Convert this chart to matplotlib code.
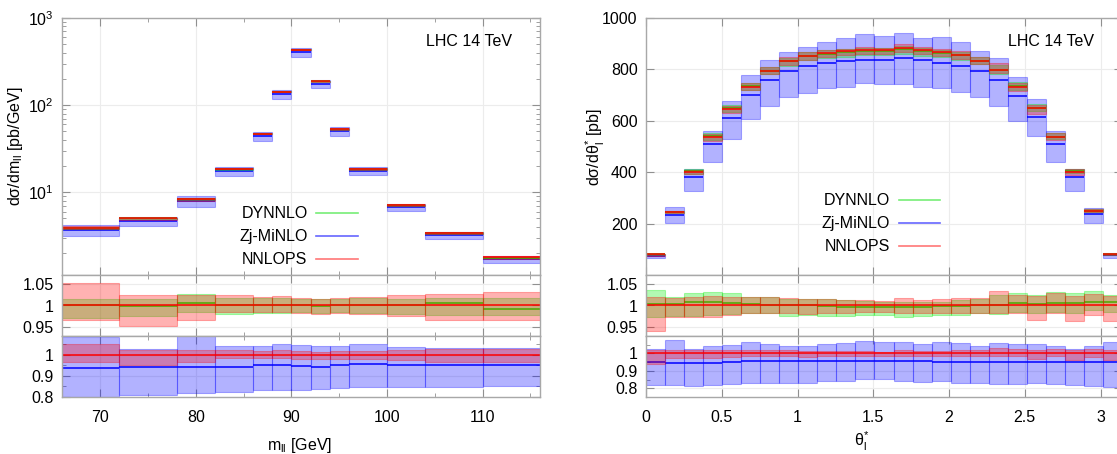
import numpy as np
import matplotlib.pyplot as plt
from matplotlib.lines import Line2D
from matplotlib.ticker import MultipleLocator, LogLocator, NullFormatter, FixedLocator

plt.rcParams['font.family'] = ['Liberation Sans', 'DejaVu Sans']
plt.rcParams['mathtext.fontset'] = 'custom'
plt.rcParams['mathtext.rm'] = 'Liberation Sans'
plt.rcParams['mathtext.it'] = 'Liberation Sans:italic'
plt.rcParams['font.size'] = 11.5

# ---- m_ll distribution (left) ----
m_edges = [66, 72, 78, 82, 86, 88, 90, 92, 94, 96, 100, 104, 110, 116]
m_nnlops = [3.9, 5.0, 8.3, 18.5, 47, 142, 432, 187, 53, 18.4, 7.1, 3.4, 1.79]
# NNLOPS band relative to its central value
m_nnlops_hi = [1.052, 1.023, 1.024, 1.023, 1.020, 1.022, 1.017, 1.015, 1.017, 1.020, 1.023, 1.026, 1.030]
m_nnlops_lo = [0.967, 0.952, 0.966, 0.986, 0.986, 0.985, 0.983, 0.981, 0.983, 0.980, 0.975, 0.967, 0.966]
# DYNNLO / NNLOPS
m_dy_mid = [1.000, 0.998, 1.005, 1.000, 1.000, 1.000, 1.000, 0.999, 1.000, 1.000, 1.000, 1.005, 0.993]
m_dy_hi = [1.014, 1.014, 1.027, 1.018, 1.018, 1.018, 1.015, 1.014, 1.015, 1.018, 1.015, 1.018, 1.018]
m_dy_lo = [0.971, 0.977, 0.986, 0.981, 0.983, 0.983, 0.984, 0.983, 0.984, 0.983, 0.980, 0.979, 0.979]
# Zj-MiNLO / NNLOPS
m_zj_mid = [0.937, 0.944, 0.944, 0.944, 0.951, 0.951, 0.948, 0.944, 0.951, 0.956, 0.951, 0.951, 0.951]
m_zj_hi = [1.084, 1.029, 1.090, 1.041, 1.043, 1.052, 1.048, 1.044, 1.044, 1.052, 1.037, 1.032, 1.032]
m_zj_lo = [0.800, 0.810, 0.821, 0.822, 0.833, 0.833, 0.833, 0.837, 0.841, 0.849, 0.849, 0.849, 0.852]

# ---- theta*_l distribution (right) ----
t_edges = np.linspace(0, np.pi, 26)
t_nnlops = [80, 246, 402, 537, 645, 733, 794, 833, 853, 863, 870, 875, 874, 882, 874,
            866, 856, 834, 798, 730, 648, 536, 402, 249, 80]
t_nnlops_hi = [1.019, 1.017, 1.019, 1.022, 1.020, 1.020, 1.020, 1.017, 1.015, 1.014, 1.013, 1.013, 1.011,
               1.018, 1.013, 1.014, 1.017, 1.018, 1.033, 1.024, 1.022, 1.028, 1.022, 1.026, 1.022]
t_nnlops_lo = [0.941, 0.973, 0.973, 0.973, 0.979, 0.983, 0.983, 0.983, 0.981, 0.983, 0.983, 0.984, 0.986,
               0.983, 0.983, 0.983, 0.983, 0.983, 0.983, 0.983, 0.967, 0.983, 0.965, 0.979, 0.964]
t_dy_mid = [1.003, 1.004, 1.008, 1.009, 1.005, 1.003, 1.002, 1.000, 1.000, 0.998, 0.996, 0.996, 0.996,
            0.996, 0.997, 0.998, 0.998, 1.000, 1.002, 1.005, 1.004, 1.005, 1.005, 1.007, 1.007]
t_dy_hi = [1.036, 1.019, 1.028, 1.030, 1.028, 1.020, 1.020, 1.015, 1.015, 1.015, 1.013, 1.011, 1.009,
           1.009, 1.009, 1.009, 1.013, 1.015, 1.024, 1.028, 1.024, 1.030, 1.028, 1.033, 1.024]
t_dy_lo = [0.973, 0.975, 0.975, 0.979, 0.981, 0.983, 0.983, 0.975, 0.979, 0.977, 0.975, 0.979, 0.979,
           0.973, 0.975, 0.979, 0.979, 0.983, 0.980, 0.984, 0.983, 0.986, 0.983, 0.990, 0.986]
t_zj_mid = [0.948, 0.944, 0.944, 0.946, 0.950, 0.955, 0.955, 0.955, 0.955, 0.957, 0.955, 0.957, 0.958,
            0.957, 0.955, 0.953, 0.952, 0.950, 0.950, 0.952, 0.950, 0.948, 0.948, 0.950, 0.950]
t_zj_hi = [1.025, 1.079, 1.025, 1.040, 1.050, 1.064, 1.052, 1.042, 1.042, 1.052, 1.058, 1.073, 1.064,
           1.068, 1.054, 1.068, 1.058, 1.044, 1.058, 1.054, 1.054, 1.044, 1.025, 1.044, 1.068]
t_zj_lo = [0.819, 0.819, 0.813, 0.819, 0.823, 0.829, 0.829, 0.832, 0.832, 0.842, 0.842, 0.852, 0.852,
           0.842, 0.836, 0.842, 0.832, 0.832, 0.823, 0.823, 0.832, 0.823, 0.817, 0.813, 0.807]

GREEN, BLUE, RED = '#00ee00', '#0000ff', '#ff0000'
W, H = 1117, 454


def px_rect(x0, x1, y0, y1):
    return [x0 / W, 1 - y1 / H, (x1 - x0) / W, (y1 - y0) / H]


def band(ax, edges, lo, hi, mid, color, z):
    edges = np.asarray(edges, dtype=float)
    lo, hi = np.asarray(lo), np.asarray(hi)
    ax.bar(edges[:-1], hi - lo, width=np.diff(edges), bottom=lo, align='edge',
           color=color, alpha=0.3, edgecolor=color, linewidth=0.8, zorder=z)
    ax.hlines(mid, edges[:-1], edges[1:], colors=color, lw=1.1, zorder=z + 0.1)


def style(ax, bottom_labels=False):
    for s in ax.spines.values():
        s.set_color('#a8a8a8')
        s.set_linewidth(1.0)
        s.set_zorder(10)
    ax.tick_params(which='both', direction='in', top=True, right=True, color='#909090',
                   labelbottom=bottom_labels, labelsize=11.5)
    ax.tick_params(which='major', length=6)
    ax.tick_params(which='minor', length=3)
    ax.tick_params(axis='x', pad=9)
    ax.tick_params(axis='y', pad=6)
    ax.grid(True, which='major', color='#ececec', lw=0.8)
    ax.set_axisbelow(True)


fig = plt.figure(figsize=(W / 100, H / 100), dpi=100)

legend_handles = [Line2D([], [], color='#77ee77', lw=1.2),
                  Line2D([], [], color='#6666ff', lw=1.2),
                  Line2D([], [], color='#ff7777', lw=1.2)]
legend_labels = ['DYNNLO', 'Zj-MiNLO', 'NNLOPS']

panels = [
    dict(x0=62, x1=540, edges=m_edges, c=m_nnlops, chi=m_nnlops_hi, clo=m_nnlops_lo,
         dmid=m_dy_mid, dhi=m_dy_hi, dlo=m_dy_lo, zmid=m_zj_mid, zhi=m_zj_hi, zlo=m_zj_lo),
    dict(x0=646, x1=1122, edges=t_edges, c=t_nnlops, chi=t_nnlops_hi, clo=t_nnlops_lo,
         dmid=t_dy_mid, dhi=t_dy_hi, dlo=t_dy_lo, zmid=t_zj_mid, zhi=t_zj_hi, zlo=t_zj_lo),
]

for i, p in enumerate(panels):
    ax = fig.add_axes(px_rect(p['x0'], p['x1'], 18, 275))
    r1 = fig.add_axes(px_rect(p['x0'], p['x1'], 275, 336), sharex=ax)
    r2 = fig.add_axes(px_rect(p['x0'], p['x1'], 336, 397), sharex=ax)
    c = np.asarray(p['c'])
    band(ax, p['edges'], c * np.array(p['zlo']), c * np.array(p['zhi']), c * np.array(p['zmid']), BLUE, 2)
    band(ax, p['edges'], c * np.array(p['dlo']), c * np.array(p['dhi']), c * np.array(p['dmid']), GREEN, 3)
    band(ax, p['edges'], c * np.array(p['clo']), c * np.array(p['chi']), c, RED, 4)

    band(r1, p['edges'], p['dlo'], p['dhi'], p['dmid'], GREEN, 3)
    band(r1, p['edges'], p['clo'], p['chi'], np.ones(len(c)), RED, 4)
    band(r2, p['edges'], p['zlo'], p['zhi'], p['zmid'], BLUE, 2)
    band(r2, p['edges'], p['clo'], p['chi'], np.ones(len(c)), RED, 4)

    for a in (ax, r1):
        style(a)
    style(r2, bottom_labels=True)

    r1.set_ylim(0.93, 1.07)
    r1.yaxis.set_major_locator(FixedLocator([0.95, 1.0, 1.05]))
    r1.set_yticklabels(['0.95', '1', '1.05'])

    ax.text(0.941, 0.907, 'LHC 14 TeV', transform=ax.transAxes, ha='right', va='center')

    leg_kw = dict(loc='lower right', markerfirst=False, frameon=False, handlelength=2.6,
                  labelspacing=0.5, handletextpad=0.55, borderpad=0, borderaxespad=0)
    if i == 0:
        ax.set_yscale('log')
        ax.set_ylim(1.12, 1000)
        ax.yaxis.set_major_locator(LogLocator(base=10))
        ax.yaxis.set_minor_locator(LogLocator(base=10, subs=np.arange(2, 10)))
        ax.yaxis.set_minor_formatter(NullFormatter())
        ax.set_xlim(66, 116)
        ax.xaxis.set_major_locator(MultipleLocator(10))
        ax.xaxis.set_minor_locator(MultipleLocator(5))
        r2.set_ylim(0.8, 1.09)
        ax.set_ylabel(r'dσ/dm$_{\mathrm{ll}}$ [pb/GeV]')
        ax.yaxis.set_label_coords(-0.077, 0.5)
        r2.set_xlabel(r'm$_{\mathrm{ll}}$ [GeV]')
        r2.xaxis.set_label_coords(0.498, -0.64)
        ax.legend(legend_handles, legend_labels, bbox_to_anchor=(0.619, 0.03), **leg_kw)
    else:
        ax.set_ylim(0, 1000)
        ax.yaxis.set_major_locator(FixedLocator([200, 400, 600, 800, 1000]))
        ax.set_xlim(0, np.pi)
        ax.xaxis.set_major_locator(MultipleLocator(0.5))
        r2.set_ylim(0.75, 1.1)
        r2.set_xticks([0, 0.5, 1, 1.5, 2, 2.5, 3])
        r2.set_xticklabels(['0', '0.5', '1', '1.5', '2', '2.5', '3'])
        ax.set_ylabel(r'dσ/dθ$^{*}_{\mathrm{l}}$ [pb]')
        ax.yaxis.set_label_coords(-0.082, 0.5)
        r2.set_xlabel(r'θ$^{*}_{\mathrm{l}}$')
        r2.xaxis.set_label_coords(0.453, -0.54)
        ax.legend(legend_handles, legend_labels, bbox_to_anchor=(0.618, 0.08), **leg_kw)

    r2.yaxis.set_major_locator(FixedLocator([0.8, 0.9, 1.0]))
    r2.set_yticklabels(['0.8', '0.9', '1'])
    r2.yaxis.set_minor_locator(MultipleLocator(0.05))

fig.savefig('out.png', dpi=100)
